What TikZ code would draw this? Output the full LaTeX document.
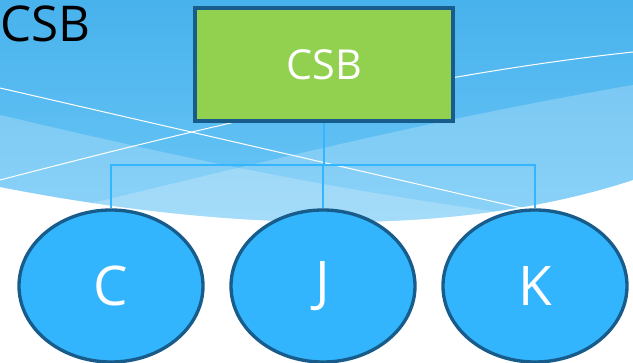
\documentclass[tikz,border=0pt]{standalone}
\usepackage{fontspec}
\setmainfont{Open Sans}
\usetikzlibrary{shapes.geometric}
\definecolor{skytop}{RGB}{72,178,236}
\definecolor{skylow}{RGB}{110,200,248}
\definecolor{leafgreen}{RGB}{146,208,80}
\definecolor{ballblue}{RGB}{50,181,253}
\definecolor{rimblue}{RGB}{24,92,140}
\definecolor{linkblue}{RGB}{51,181,255}
\begin{document}
\begin{tikzpicture}
     [
     x=0.75pt, y=-0.75pt,
     greenbox/.style={rectangle, draw=rimblue, fill=leafgreen, line width=2.5pt, minimum width=193.5pt, minimum height=84.75pt, text=white, font=\fontsize{31}{36}\selectfont},
     blueball/.style={ellipse, draw=rimblue, fill=ballblue, line width=2.5pt, minimum width=138pt, minimum height=114pt, text=white, font=\fontsize{41}{48}\selectfont},
     titletext/.style={inner sep=0pt, anchor=base east, font=\fontsize{37}{42}\selectfont},
     link/.style={draw=linkblue, line width=1.9pt},
     wave/.style={fill=white, fill opacity=0.22},
     glint/.style={draw=white, line width=0.75pt},
     ]
 \useasboundingbox (0,0) rectangle (633,363);
 \clip (0,0) rectangle (633,363);
 % background waves
 \path[top color=skytop, bottom color=skylow] (0,0) -- (633,0) -- (633,180) .. controls (450,240) and (220,230) .. (0,187) -- cycle;
 \begin{scope}
  \clip (0,0) -- (633,0) -- (633,180) .. controls (450,240) and (220,230) .. (0,187) -- cycle;
  \fill[wave] (0,115) .. controls (150,150) and (300,185) .. (520,215) -- (520,260) -- (0,260) -- cycle;
  \fill[wave] (0,225) .. controls (200,178) and (400,125) .. (633,85) -- (633,260) -- (0,260) -- cycle;
 \end{scope}
 \draw[glint] (0,88) -- (530,210);
 \draw[glint] (0,180) .. controls (200,128) and (420,75) .. (633,52);
 \node at (91,42) [titletext] (title) {CSB};
 % tree
 \node at (324,64.5) [greenbox] (root) {CSB};
 \node at (111,286) [blueball] (c) {C};
 \node at (323,286) [blueball] (j) {J};
 \node at (535,286) [blueball] (k) {K};
 \coordinate (bus) at (324,165);
 \draw[link] (root.south) -- (bus);
 \draw[link] (bus) -| (c.north);
 \draw[link] (bus) -| (j.north);
 \draw[link] (bus) -| (k.north);
\end{tikzpicture}
\end{document}
